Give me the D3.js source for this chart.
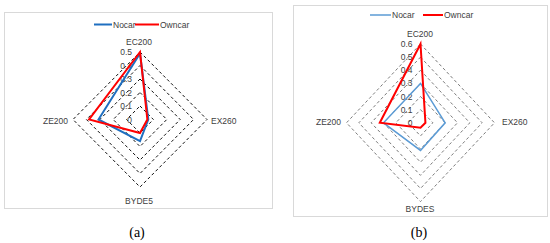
<!DOCTYPE html>
<html><head><meta charset="utf-8">
<script src="https://cdn.jsdelivr.net/npm/d3@7"></script>
<style>
html,body{margin:0;padding:0;background:#fff;}
svg{display:block;}
</style></head>
<body>
<svg id="chart" width="550" height="243"></svg>
<script>
// ---- data ----
const categoriesA = ["EC200", "EX260", "BYDE5", "ZE200"];
const categoriesB = ["EC200", "EX260", "BYDES", "ZE200"];
const seriesNames = ["Nocar", "Owncar"];
const nocarA  = [0.49, 0.062, 0.16, 0.31];
const owncarA = [0.50, 0.055, 0.10, 0.38];
const nocarB  = [0.30, 0.20, 0.21, 0.30];
const owncarB = [0.60, 0.04, 0.037, 0.33];
const ticksA = [0, 0.1, 0.2, 0.3, 0.4, 0.5];
const ticksB = [0, 0.1, 0.2, 0.3, 0.4, 0.5, 0.6];
const tickLabelsA = ["0", "0.1", "0.2", "0.3", "0.4", "0.5"];
const tickLabelsB = ["0", "0.1", "0.2", "0.3", "0.4", "0.5", "0.6"];
const panelLabels = ["(a)", "(b)"];

const svg = d3.select("#chart");
const FONT = "'Liberation Sans Narrow','Liberation Sans',Arial,sans-serif";

const panels = [
  {cats: categoriesA, nocar: nocarA, owncar: owncarA, ticks: ticksA, tickLabels: tickLabelsA,
   box: [4.5, 12.5, 268, 196], cx: 140, cy: 119.5, rx: 67, ry: 67.5,
   gridColor: "#111", blue: "#1f6fc0", blueW: 2, redW: 2,
   legendY: 24.5, legendX: [94, 135], lineLen: [18, 24],
   catPos: [[139, 45, "middle"], [211, 124, "start"], [139, 204, "middle"], [68, 124, "end"]],
   label: panelLabels[0], labelX: 137},
  {cats: categoriesB, nocar: nocarB, owncar: owncarB, ticks: ticksB, tickLabels: tickLabelsB,
   box: [293.5, 5.5, 254, 211], cx: 420.5, cy: 122.8, rx: 74, ry: 78.8,
   gridColor: "#7a7a7a", blue: "#5b9bd5", blueW: 1.5, redW: 2,
   legendY: 15, legendX: [370, 423], lineLen: [21, 20],
   catPos: [[420, 37, "middle"], [502, 125, "start"], [420, 212, "middle"], [341, 125, "end"]],
   label: panelLabels[1], labelX: 419}
];

panels.forEach(p => {
  const g = svg.append("g");
  g.append("rect").attr("x", p.box[0]).attr("y", p.box[1])
    .attr("width", p.box[2]).attr("height", p.box[3])
    .attr("fill", "#fff").attr("stroke", "#d9d9d9").attr("stroke-width", 1);

  const maxV = d3.max(p.ticks);
  const sx = d3.scaleLinear().domain([0, maxV]).range([0, p.rx]);
  const sy = d3.scaleLinear().domain([0, maxV]).range([0, p.ry]);
  const n = p.cats.length;
  const angle = i => -Math.PI / 2 + i * 2 * Math.PI / n;
  const pt = (v, i) => [p.cx + Math.cos(angle(i)) * sx(v), p.cy + Math.sin(angle(i)) * sy(v)];
  const line = d3.line().curve(d3.curveLinearClosed);

  // grid rings
  p.ticks.filter(t => t > 0).forEach(t => {
    g.append("path")
      .attr("d", line(p.cats.map((c, i) => pt(t, i))))
      .attr("fill", "none").attr("stroke", p.gridColor)
      .attr("stroke-width", 1).attr("stroke-dasharray", "3,2.5");
  });

  // tick labels along vertical axis
  p.ticks.forEach((t, k) => {
    const [x, y] = pt(t, 0);
    g.append("text").attr("x", p.cx - 8).attr("y", y + 3)
      .attr("text-anchor", "end").attr("font-family", FONT).attr("font-size", 8.5)
      .attr("fill", "#404040").text(p.tickLabels[k]);
  });

  // category labels
  p.cats.forEach((c, i) => {
    const cp = p.catPos[i];
    g.append("text").attr("x", cp[0]).attr("y", cp[1]).attr("text-anchor", cp[2])
      .attr("font-family", FONT).attr("font-size", 8.5).attr("fill", "#404040").text(c);
  });

  // series
  const series = [[p.nocar, p.blue, p.blueW], [p.owncar, "#ff0000", p.redW]];
  series.forEach(s => {
    g.append("path").attr("d", line(s[0].map((v, i) => pt(v, i))))
      .attr("fill", "none").attr("stroke", s[1]).attr("stroke-width", s[2])
      .attr("stroke-linejoin", "miter");
  });

  // legend
  series.forEach((s, k) => {
    const x0 = p.legendX[k];
    g.append("line").attr("x1", x0).attr("x2", x0 + p.lineLen[k])
      .attr("y1", p.legendY).attr("y2", p.legendY)
      .attr("stroke", s[1]).attr("stroke-width", s[2]);
    g.append("text").attr("x", x0 + p.lineLen[k] + 1).attr("y", p.legendY + 3)
      .attr("font-family", FONT).attr("font-size", 8.5).attr("fill", "#404040")
      .text(seriesNames[k]);
  });

  // panel label
  svg.append("text").attr("x", p.labelX).attr("y", 237).attr("text-anchor", "middle")
    .attr("font-family", "'Liberation Serif','Times New Roman',serif").attr("font-size", 14)
    .attr("fill", "#000").text(p.label);
});
</script>
</body></html>
